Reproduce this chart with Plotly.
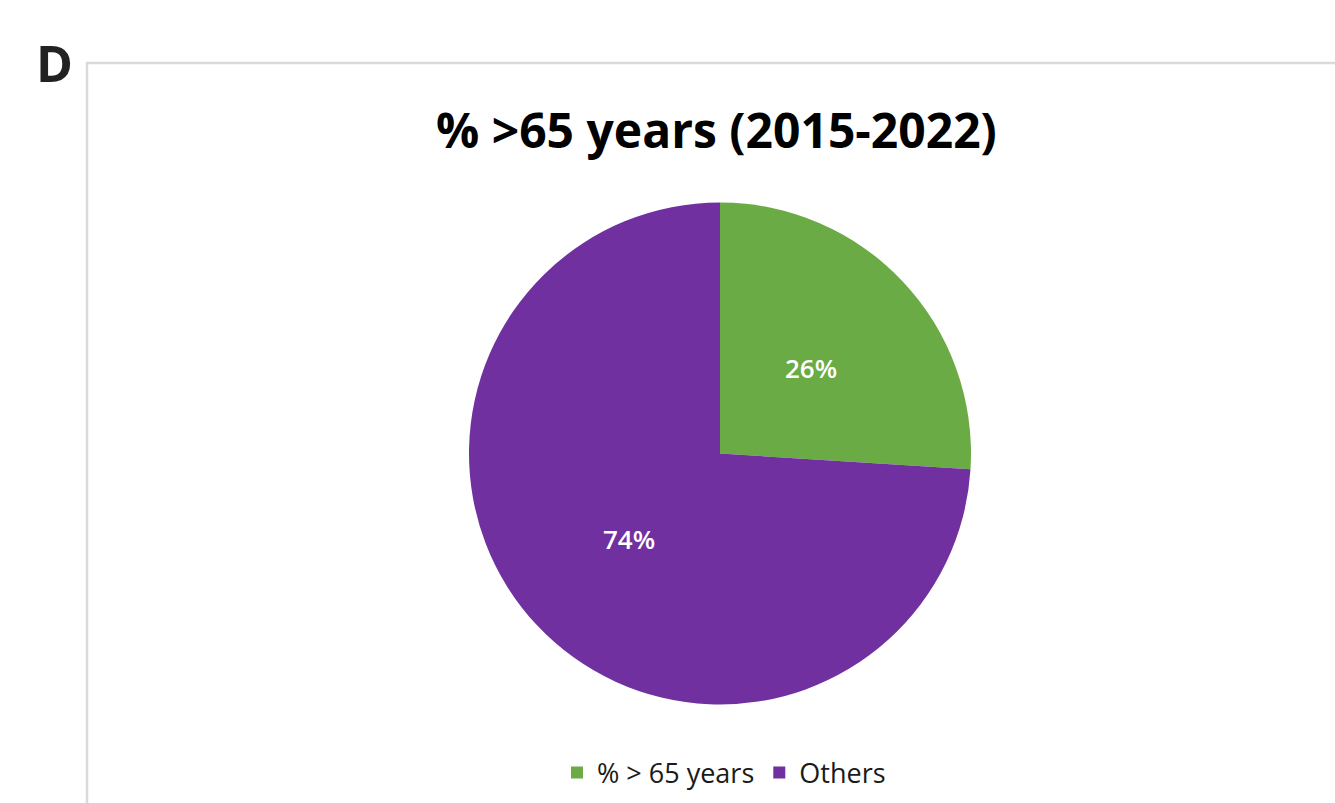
import numpy as np
import plotly.graph_objects as go

labels = ["% > 65 years", "Others"]
values = [26, 74]
colors = ["#6aab45", "#7030a0"]
title_text = "% >65 years (2015-2022)"
panel_letter = "D"

W, H = 1335, 803
cx, cy, r = 720, 453.5, 251

fig = go.Figure()
fig.add_trace(go.Pie(
    labels=labels,
    values=values,
    sort=False,
    direction="clockwise",
    rotation=0,
    marker=dict(colors=colors, line=dict(width=0)),
    textinfo="none",
    hoverinfo="label+percent",
    domain=dict(x=[(cx - r) / W, (cx + r) / W], y=[1 - (cy + r) / H, 1 - (cy - r) / H]),
))

# percentage labels placed at half radius along each slice's mid-angle
vals = np.array(values, dtype=float)
fr = vals / vals.sum()
mid = (np.cumsum(fr) - fr / 2) * 2 * np.pi  # clockwise from 12 o'clock
annots = []
for f, a in zip(fr, mid):
    px = cx + 0.5 * r * np.sin(a)
    py = cy - 0.5 * r * np.cos(a)
    annots.append(dict(text=f"{f*100:.0f}%", x=px / W, y=1 - py / H, xref="paper", yref="paper",
                       xanchor="center", yanchor="middle", showarrow=False,
                       font=dict(size=26, family="Open Sans", color="white", weight=600)))

annots += [
    dict(text="<b>" + title_text + "</b>", x=716 / W, y=1 - 130 / H, xref="paper", yref="paper",
         xanchor="center", yanchor="middle", showarrow=False,
         font=dict(size=48, family="Open Sans", color="black")),
    dict(text="<b>" + panel_letter + "</b>", x=55 / W, y=1 - 63 / H, xref="paper", yref="paper",
         xanchor="center", yanchor="middle", showarrow=False,
         font=dict(size=50, family="Open Sans", color="#222")),
]

fig.update_layout(
    width=W, height=H,
    margin=dict(l=0, r=0, t=0, b=0),
    paper_bgcolor="white",
    plot_bgcolor="white",
    showlegend=True,
    legend=dict(
        orientation="h",
        x=724 / W, xanchor="center",
        y=1 - 773 / H, yanchor="middle",
        font=dict(size=27, family="Open Sans", color="#1a1a1a"),
        itemsizing="constant",
        traceorder="normal",
    ),
    annotations=annots,
    shapes=[
        dict(type="rect", xref="paper", yref="paper",
             x0=87 / W, x1=1.01, y0=-0.01, y1=1 - 63 / H,
             line=dict(color="#dadada", width=2.5), fillcolor="rgba(0,0,0,0)", layer="below"),
    ],
)

fig.write_html("out.html")
